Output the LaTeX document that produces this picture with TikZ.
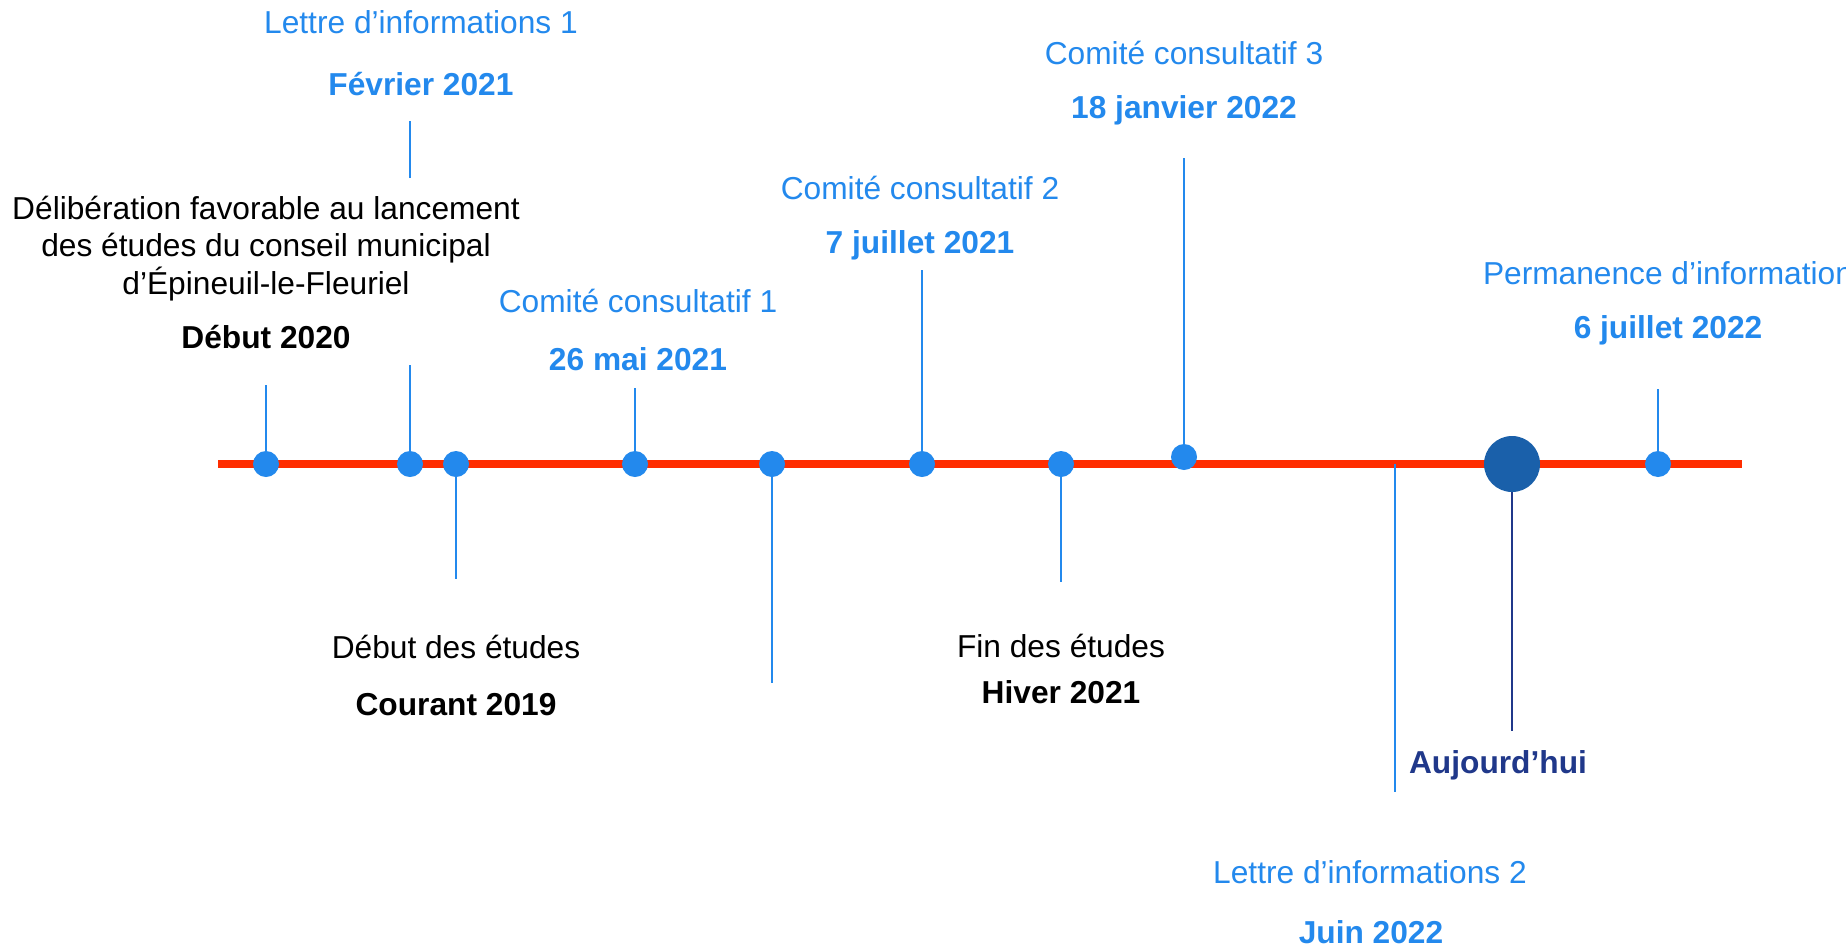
\documentclass[tikz,border=0pt]{standalone}
\usepackage{fontspec}
\setmainfont{Liberation Sans}
\definecolor{tlred}{RGB}{255,45,0}
\definecolor{tlblue}{RGB}{35,137,237}
\definecolor{tlnavy}{RGB}{26,96,170}
\definecolor{tldark}{RGB}{32,56,138}
\begin{document}
\begin{tikzpicture}[x=1pt,y=-1pt,
  lbl/.style={anchor=base,inner sep=0pt,font=\fontsize{31.7}{38}\selectfont},
  blu/.style={lbl,text=tlblue},
  bblu/.style={lbl,text=tlblue,font=\fontsize{31.7}{38}\selectfont\bfseries},
  blk/.style={lbl,text=black},
  bblk/.style={lbl,text=black,font=\fontsize{31.7}{38}\selectfont\bfseries},
  dot/.style={circle,fill=tlblue,inner sep=0pt,minimum size=26pt},
  bigdot/.style={circle,fill=tlnavy,inner sep=0pt,minimum size=56pt},
  vl/.style={draw=tlblue,line width=1.5pt},
  vld/.style={draw=tldark,line width=1.5pt},
  axis/.style={draw=tlred,line width=8pt}]
\useasboundingbox (0,0) rectangle (1846,948);
\fill[white] (0,0) rectangle (1846,948);

% axis
\coordinate (L) at (218,464);
\coordinate (R) at (1742,464);
\draw[axis] (L) -- (R);

% event positions
\coordinate (p1) at (266,464);
\coordinate (p2) at (410,464);
\coordinate (p3) at (456,464);
\coordinate (p4) at (635,464);
\coordinate (p5) at (772,464);
\coordinate (p6) at (922,464);
\coordinate (p7) at (1061,464);
\coordinate (p8) at (1184,457);
\coordinate (p9) at (1395,464);
\coordinate (p10) at (1512,464);
\coordinate (p11) at (1658,464);

% free ends of the stems
\coordinate (e1) at (266,385);
\coordinate (e2) at (410,365);
\coordinate (e2a) at (410,178);
\coordinate (e2b) at (410,121);
\coordinate (e3) at (456,579);
\coordinate (e4) at (635,388);
\coordinate (e5) at (772,683);
\coordinate (e6) at (922,270);
\coordinate (e7) at (1061,582);
\coordinate (e8) at (1184,158);
\coordinate (e9) at (1395,792);
\coordinate (e10) at (1512,731);
\coordinate (e11) at (1658,389);

\draw[vl] (p1) -- (e1);
\draw[vl] (p2) -- (e2);
\draw[vl] (e2a) -- (e2b);
\draw[vl] (p3) -- (e3);
\draw[vl] (p4) -- (e4);
\draw[vl] (p5) -- (e5);
\draw[vl] (p6) -- (e6);
\draw[vl] (p7) -- (e7);
\draw[vl] (p8) -- (e8);
\draw[vl] (p9) -- (e9);
\draw[vld] (p10) -- (e10);
\draw[vl] (p11) -- (e11);

% dots
\node[dot] (d1) at (p1) {};
\node[dot] (d2) at (p2) {};
\node[dot] (d3) at (p3) {};
\node[dot] (d4) at (p4) {};
\node[dot] (d5) at (p5) {};
\node[dot] (d6) at (p6) {};
\node[dot] (d7) at (p7) {};
\node[dot] (d8) at (p8) {};
\node[bigdot] (d10) at (p10) {};
\node[dot] (d11) at (p11) {};

% labels
\node[blu]  (t2a) at (421,33) {Lettre d’informations 1};
\node[bblu] (t2b) at (421,95) {Février 2021};

\node[blk]  (t1a) at (266,219) {Délibération favorable au lancement};
\node[blk]  (t1b) at (266,256) {des études du conseil municipal};
\node[blk]  (t1c) at (266,294) {d’Épineuil-le-Fleuriel};
\node[bblk] (t1d) at (266,348) {Début 2020};

\node[blk]  (t3a) at (456,658) {Début des études};
\node[bblk] (t3b) at (456,715) {Courant 2019};

\node[blu]  (t4a) at (638,312) {Comité consultatif 1};
\node[bblu] (t4b) at (638,370) {26 mai 2021};

\node[blu]  (t6a) at (920,199) {Comité consultatif 2};
\node[bblu] (t6b) at (920,253) {7 juillet 2021};

\node[blk]  (t7a) at (1061,657) {Fin des études};
\node[bblk] (t7b) at (1061,703) {Hiver 2021};

\node[blu]  (t8a) at (1184,64) {Comité consultatif 3};
\node[bblu] (t8b) at (1184,118) {18 janvier 2022};

\node[blu]  (t9a) at (1370,883) {Lettre d’informations 2};
\node[bblu] (t9b) at (1371,943) {Juin 2022};

\node[lbl,text=tldark,font=\fontsize{31.7}{38}\selectfont\bfseries] (t10) at (1498,773) {Aujourd’hui};

\node[blu]  (t11a) at (1668,284) {Permanence d’information};
\node[bblu] (t11b) at (1668,338) {6 juillet 2022};
\end{tikzpicture}
\end{document}
